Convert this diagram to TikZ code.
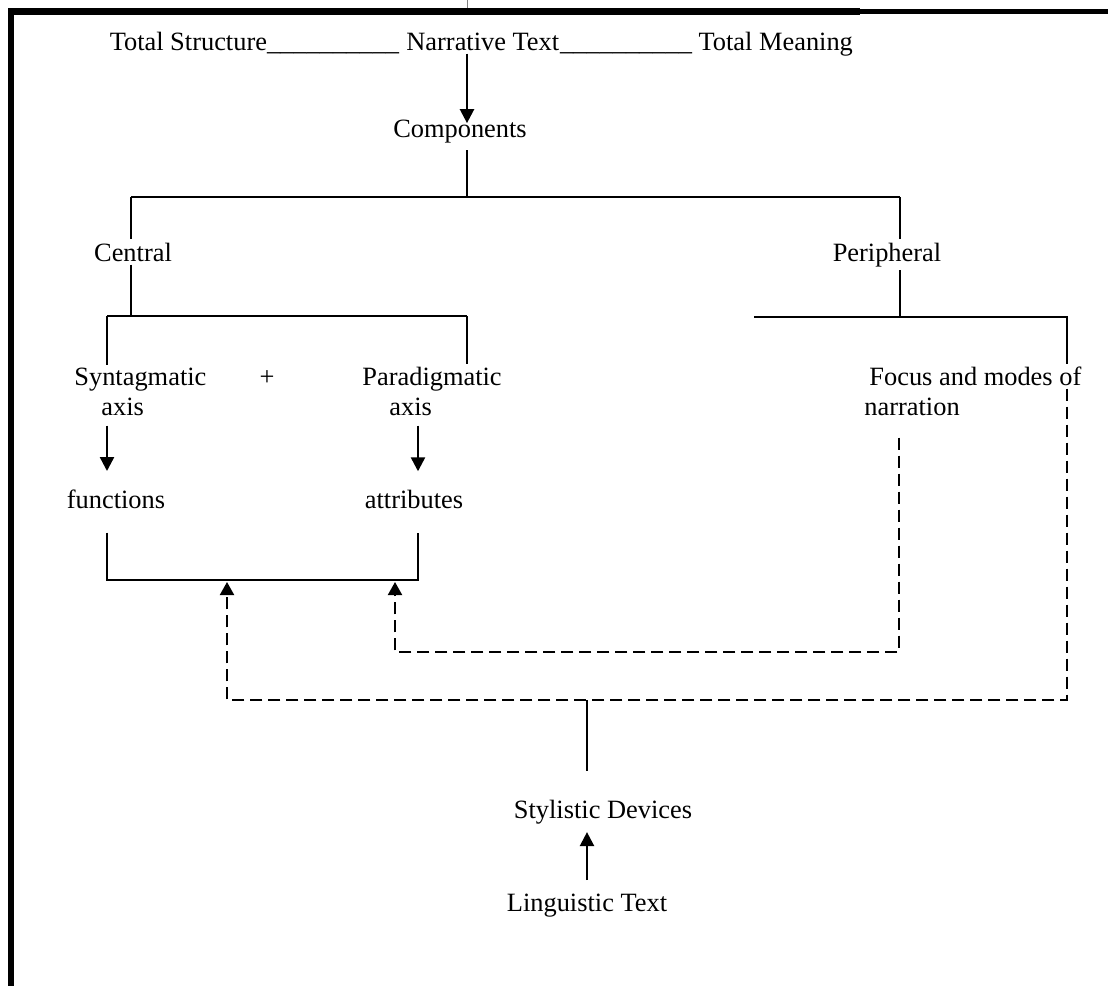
\documentclass[tikz,border=0pt]{standalone}
\usepackage{fontspec}
\setmainfont{Liberation Serif}
\usetikzlibrary{arrows.meta, positioning}

\begin{document}
\begin{tikzpicture} [x=0.5pt, y=-0.5pt,
    txt/.style = {inner sep=0pt, font=\fontsize{13.2pt}{15pt}\selectfont},
    tree/.style = {line width=0.7pt},
    arr/.style = {-{Triangle[length=7pt, width=7pt]}, line width=1.2pt},
    darr/.style = {-{Triangle[length=6.5pt, width=7pt]}, line width=1pt, dash pattern=on 6pt off 3pt}]

    \useasboundingbox (0,0) rectangle (1108,986);

    % page frame
    \draw [line width=3.5pt] (8,11.75) -- (860,11.75);
    \draw [line width=2.5pt] (860,11.5) -- (1108,11.5);
    \draw [line width=3pt] (11,8) -- (11,986);
    \draw [gray, line width=0.4pt] (467,0) -- (467,8);

    % texts
    \node (narr) [txt, anchor=base west] at (406,50) {Narrative Text};
    \node (tstruct) [txt, base left=3.3pt of narr] {Total Structure\_\_\_\_\_\_\_\_\_\_};
    \node (tmean) [txt, base right=0pt of narr] {\_\_\_\_\_\_\_\_\_\_ Total Meaning};
    \node (comp) [txt, anchor=base] at (460,137) {Components};
    \node (central) [txt, inner sep=1.5pt, anchor=base] at (133,261) {Central};
    \node (periph) [txt, inner sep=1.5pt, anchor=base] at (887,261) {Peripheral};
    \node (synt) [txt, anchor=base west] at (74,385) {Syntagmatic};
    \node (synt2) [txt, anchor=base west] at (101,415) {axis};
    \node (plus) [txt, anchor=base] at (267,385) {+};
    \node (para) [txt, anchor=base west] at (362,385) {Paradigmatic};
    \node (para2) [txt, anchor=base west] at (389,415) {axis};
    \node (func) [txt, anchor=base] at (116,508) {functions};
    \node (attr) [txt, anchor=base] at (414,508) {attributes};
    \node (focus) [txt, anchor=base west] at (869,385) {Focus and modes of};
    \node (focus2) [txt, anchor=base west] at (864,415) {narration};
    \node (styl) [txt, anchor=base] at (603,818) {Stylistic Devices};
    \node (ling) [txt, anchor=base] at (587,911) {Linguistic Text};

    % junctions
    \coordinate (j-top) at (467,197);
    \coordinate (j-l) at (131,197);
    \coordinate (j-r) at (900,197);
    \coordinate (c-l) at (107,316);
    \coordinate (c-r) at (467,316);
    \coordinate (p-l) at (754,317);
    \coordinate (p-r) at (1067,317);
    \coordinate (a-l) at (107,580);
    \coordinate (a-r) at (418,580);
    \coordinate (b1) at (395,582);
    \coordinate (b2) at (227,582);
    \coordinate (d1) at (899,652);
    \coordinate (d2) at (1067,700);
    \coordinate (s-top) at (587,700);

    % first level
    \path [arr, shorten <=1.5pt, shorten >=-2pt] (narr.south -| j-top) edge (comp.north -| j-top);
    \draw [tree, shorten <=3.7pt] (comp.south -| j-top) -- (j-top);
    \draw [tree] (j-l) -- (j-r);
    \draw [tree] (j-l) -- (central.north -| j-l);
    \draw [tree] (central.south -| j-l) -- (j-l |- c-l);
    \draw [tree] (j-r) -- (periph.north -| j-r);
    \draw [tree] (periph.south -| j-r) -- (j-r |- p-l);

    % central branch
    \draw [tree] (c-l) -- (c-r);
    \draw [tree, shorten >=1pt] (c-l) -- (synt.north -| c-l);
    \draw [tree, shorten >=1pt] (c-r) -- (para.north -| c-r);
    \path [arr, shorten <=5pt, shorten >=9pt] (synt2.south -| a-l) edge (func.north -| a-l);
    \path [arr, shorten <=5pt, shorten >=9pt] (para2.south -| a-r) edge (attr.north -| a-r);
    \draw [tree, shorten <=12pt, shorten >=12pt] (func.south -| a-l) -- (a-l) -- (a-r) -- (attr.south -| a-r);

    % peripheral branch
    \draw [tree, shorten >=1pt] (p-l) -- (p-r) -- (focus.north -| p-r);

    % dashed links back to the central pair
    \draw [darr, shorten <=11pt] (focus2.south -| d1) -- (d1) -- (d1 -| b1) -- (b1);
    \draw [darr, shorten <=1.5pt] (focus.south -| d2) -- (d2) -- (d2 -| b2) -- (b2);

    % stylistic devices
    \draw [tree, shorten >=14pt] (s-top) -- (styl.north -| s-top);
    \path [arr, shorten <=6.5pt, shorten >=4pt] (ling.north -| s-top) edge (styl.south -| s-top);

\end{tikzpicture}
\end{document}
